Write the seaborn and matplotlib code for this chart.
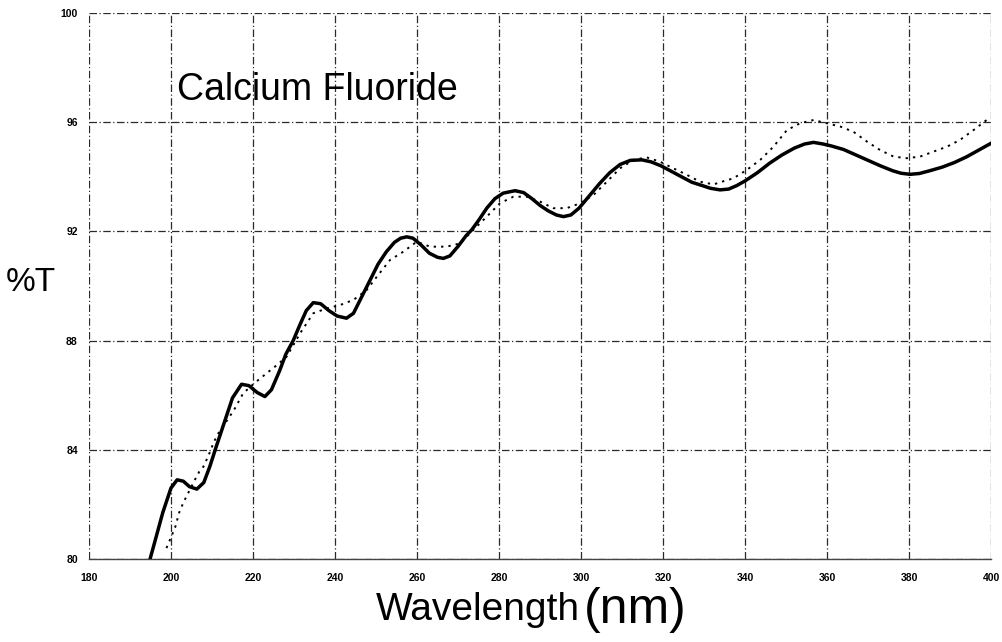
import matplotlib
matplotlib.use("Agg")
import matplotlib.pyplot as plt
import seaborn as sns
import pandas as pd

# ---- data ----
theory_nm = [194.9, 196, 198, 200, 201.5, 203, 204.5, 206.3, 208, 209.5, 211, 213, 215,
             217.2, 219, 221, 222.9, 224.5, 226.5, 228, 229.8, 231.5, 233, 234.7, 236.5,
             238.5, 240.5, 242.8, 244.5, 246.5, 248.5, 250.5, 252.5, 254.5, 256, 257.5,
             259, 261, 263, 265, 266.4, 268, 270, 272, 273.3, 275, 277, 279, 281, 283.9,
             286, 288, 290, 292, 294, 295.7, 297.5, 299.5, 302, 304.5, 307, 309.5, 312,
             314.8, 317, 319.5, 322, 324.5, 327, 329.5, 331.5, 333.9, 336, 338, 340, 343,
             346, 349, 352, 354.5, 356.7, 359, 361, 364, 367, 370, 373, 376, 378, 380.2,
             382.5, 385, 388, 391, 394, 397, 400]
theory_T = [80.0, 80.6, 81.7, 82.6, 82.9, 82.85, 82.65, 82.56, 82.8, 83.4, 84.1, 85.0, 85.9,
            86.4, 86.35, 86.1, 85.95, 86.2, 86.9, 87.5, 88.0, 88.6, 89.1, 89.39, 89.35,
            89.1, 88.9, 88.82, 89.0, 89.6, 90.2, 90.8, 91.25, 91.6, 91.75, 91.8,
            91.75, 91.5, 91.2, 91.05, 91.01, 91.1, 91.45, 91.85, 92.05, 92.4, 92.85, 93.2,
            93.4, 93.49, 93.42, 93.2, 92.95, 92.75, 92.6, 92.54, 92.6, 92.85, 93.3, 93.75,
            94.15, 94.45, 94.6, 94.62, 94.55, 94.4, 94.2, 94.0, 93.8, 93.68, 93.58, 93.52,
            93.55, 93.68, 93.85, 94.15, 94.5, 94.8, 95.05, 95.2, 95.26, 95.2, 95.13, 95.0,
            94.8, 94.6, 94.4, 94.22, 94.13, 94.09, 94.12, 94.22, 94.35, 94.52, 94.73,
            94.98, 95.23]

measured_nm = [198.9, 201, 202, 203, 203.8, 205.9, 206.9, 207.9, 209.1, 210.5, 212, 213.8,
               215.6, 217.6, 220.5, 223.3, 225.8, 228.2, 231.5, 234.7, 238, 241.2, 244.5,
               247.7, 250.2, 253.4, 256.7, 259.9, 263.2, 267.2, 270.5, 273.7, 277, 280.2,
               283.5, 286.8, 290, 293.2, 296.5, 299.8, 303, 306.3, 309.5, 312.8, 316,
               319.3, 322.5, 325.8, 329, 332.3, 335, 337.1, 340.4, 343.7, 346.9, 350.2,
               353.4, 356.7, 359.9, 363.2, 366.4, 369.7, 372.9, 376.2, 379.4, 382.7,
               385.9, 389.2, 392.4, 395.7, 398.9, 400]
measured_T = [80.4, 81.15, 81.7, 82.06, 82.3, 82.92, 83.2, 83.38, 83.77, 84.3, 84.73, 85.1,
              85.52, 86.07, 86.46, 86.8, 87.1, 87.41, 88.27, 89.0, 89.18, 89.3, 89.49,
              89.85, 90.34, 90.95, 91.26, 91.62, 91.44, 91.44, 91.56, 92.05, 92.54, 93.03,
              93.27, 93.27, 93.09, 92.85, 92.85, 93.03, 93.33, 93.82, 94.31, 94.62, 94.71,
              94.55, 94.31, 94.07, 93.82, 93.72, 93.85, 93.94, 94.25, 94.62, 95.1, 95.71,
              95.96, 96.08, 95.96, 95.84, 95.65, 95.29, 94.98, 94.74, 94.68, 94.74,
              94.92, 95.1, 95.35, 95.71, 96.08, 96.1]

x_ticks = [180, 200, 220, 240, 260, 280, 300, 320, 340, 360, 380, 400]
y_ticks = [80, 84, 88, 92, 96, 100]

title_text = "Calcium Fluoride"
y_label = "%T"

# ---- plot ----
sns.set_style("white")
plt.rcParams['font.family'] = ['Liberation Sans', 'DejaVu Sans']
plt.rcParams['text.color'] = 'black'
plt.rcParams['xtick.color'] = 'black'
plt.rcParams['ytick.color'] = 'black'

fig = plt.figure(figsize=(10.03, 6.42), dpi=100)
ax = fig.add_axes([0.0887, 0.1293, 0.8995, 0.8505])

df_t = pd.DataFrame({"nm": theory_nm, "T": theory_T})
df_m = pd.DataFrame({"nm": measured_nm, "T": measured_T})

sns.lineplot(data=df_m, x="nm", y="T", ax=ax, color="black", lw=1.4,
             linestyle=(0, (1.2, 2.6)), sort=False, zorder=3)
sns.lineplot(data=df_t, x="nm", y="T", ax=ax, color="black", lw=2.5,
             sort=False, zorder=4, solid_joinstyle="round", solid_capstyle="round")

ax.set_xlim(180, 400)
ax.set_ylim(80, 100)
ax.set_xticks(x_ticks)
ax.set_yticks(y_ticks)
ax.set_xticklabels([str(v) for v in x_ticks], fontsize=7.5, fontweight="bold")
ax.set_yticklabels([str(v) for v in y_ticks], fontsize=7.5, fontweight="bold")
ax.tick_params(axis="both", length=0)
ax.tick_params(axis="x", pad=10)
ax.tick_params(axis="y", pad=8)

ax.grid(True, color="#2a2a2a", lw=0.9, linestyle=(0, (6, 2, 1, 2)))
for s in ["left", "top", "right"]:
    ax.spines[s].set_visible(False)
ax.spines["bottom"].set_color("#444444")
ax.spines["bottom"].set_linewidth(1.0)

ax.set_xlabel("")
ax.set_ylabel("")

ax.text(201.5, 96.8, title_text, fontsize=27, ha="left", va="baseline", color="black")
fig.text(0.031, 0.56, y_label, fontsize=24, ha="center", va="center", color="black")
fig.text(0.578, 0.05, "Wavelength", fontsize=28, ha="right", va="center", color="black")
fig.text(0.582, 0.05, "(nm)", fontsize=36, ha="left", va="center", color="black")

fig.savefig("out.png", dpi=100)
